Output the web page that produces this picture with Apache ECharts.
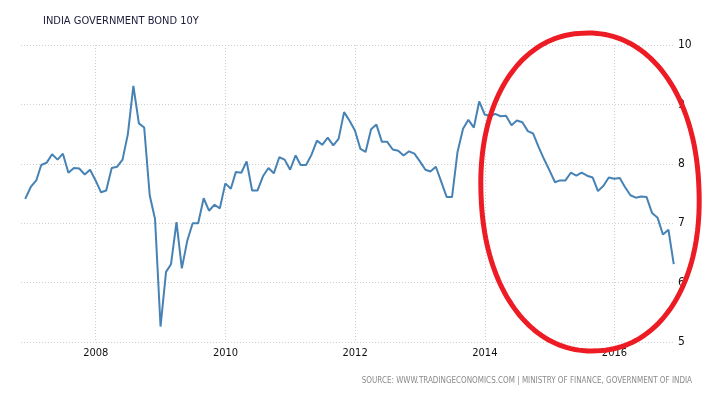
<!DOCTYPE html>
<html>
<head>
<meta charset="utf-8">
<script src="https://cdn.jsdelivr.net/npm/echarts@6/dist/echarts.min.js"></script>
<style>
html,body{margin:0;padding:0;background:#fff;}
#c{width:714px;height:394px;}
</style>
</head>
<body>
<div id="c"></div>
<script>
// Monthly yields, Nov 2006 .. Nov 2016 (month-end)
const startYear = 2006, startMonth = 10; // November (0-based)
const yields = [
  7.41, 7.61, 7.72, 7.98, 8.02, 8.16, 8.07, 8.17, 7.85, 7.93, 7.92, 7.82, 7.90,
  7.72, 7.52, 7.55, 7.93, 7.95, 8.07, 8.50, 9.31, 8.68, 8.61, 7.47, 7.07,
  5.26, 6.18, 6.31, 7.02, 6.24, 6.71, 7.00, 7.00, 7.42, 7.21, 7.31, 7.25,
  7.67, 7.58, 7.86, 7.85, 8.04, 7.55, 7.55, 7.79, 7.93, 7.84, 8.11, 8.07,
  7.90, 8.14, 7.98, 7.98, 8.15, 8.39, 8.32, 8.44, 8.31, 8.42, 8.87, 8.73,
  8.56, 8.25, 8.20, 8.58, 8.66, 8.37, 8.37, 8.24, 8.22, 8.14, 8.21, 8.17,
  8.04, 7.90, 7.87, 7.95, 7.70, 7.44, 7.44, 8.20, 8.59, 8.74, 8.61, 9.05,
  8.83, 8.80, 8.84, 8.80, 8.81, 8.65, 8.73, 8.70, 8.55, 8.51, 8.28, 8.08,
  7.89, 7.69, 7.72, 7.72, 7.85, 7.80, 7.85, 7.80, 7.77, 7.54, 7.63, 7.77,
  7.75, 7.76, 7.61, 7.47, 7.43, 7.45, 7.44, 7.17, 7.09, 6.81, 6.89, 6.31
];
const yearTicks = [2008, 2010, 2012, 2014, 2016];
const yTicks = [5, 6, 7, 8, 9, 10];

// month-end dates as categories (timestamps)
const months = yields.map((_, i) => Date.UTC(startYear, startMonth + i + 1, 0));
const seriesData = months.map((d, i) => [d, yields[i]]);
const yearTickValues = yearTicks.map(y => Date.UTC(y, 0, 1));

const chart = echarts.init(document.getElementById('c'), null, {renderer: 'canvas'});

// hand-drawn style annotation loop (pixel space, superellipse)
const ell = [];
const cx = 590, cy = 192, rx = 109, ry = 159, rot = -0.04, pw = 2.15;
for (let k = 0; k < 180; k++) {
  const t = k / 180 * Math.PI * 2;
  const c = Math.cos(t), s = Math.sin(t);
  const lx = rx * Math.sign(c) * Math.pow(Math.abs(c), 2 / pw);
  const ly = ry * Math.sign(s) * Math.pow(Math.abs(s), 2 / pw);
  ell.push([cx + lx * Math.cos(rot) - ly * Math.sin(rot), cy + lx * Math.sin(rot) + ly * Math.cos(rot)]);
}

chart.setOption({
  animation: false,
  backgroundColor: '#fff',
  title: {
    text: 'INDIA GOVERNMENT BOND 10Y',
    left: 38, top: 11,
    textStyle: {fontSize: 11, fontWeight: 'normal', color: '#1b1b3a', fontFamily: 'DejaVu Sans Condensed, DejaVu Sans'}
  },
  grid: {left: 21, right: 39, top: 45, bottom: 52},
  xAxis: {
    type: 'value',
    scale: true,
    min: Date.UTC(2006, 10, 6),
    max: Date.UTC(2016, 11, 7),
    axisLine: {show: false},
    axisTick: {show: false, customValues: yearTickValues},
    axisLabel: {
      customValues: yearTickValues,
      formatter: v => String(new Date(v).getUTCFullYear()),
      color: '#111', fontSize: 11, margin: 6,
      fontFamily: 'DejaVu Sans Condensed, DejaVu Sans'
    },
    splitLine: {show: true, lineStyle: {color: '#cfcfcf', type: [1, 2], width: 1}}
  },
  yAxis: {
    type: 'value',
    position: 'right',
    min: 5, max: 10, interval: 1,
    axisLine: {show: false},
    axisTick: {show: false},
    axisLabel: {color: '#111', fontSize: 12, margin: 3, fontFamily: 'DejaVu Sans Condensed, DejaVu Sans'},
    splitLine: {show: true, lineStyle: {color: '#cfcfcf', type: [1, 2], width: 1}}
  },
  series: [{
    type: 'line',
    data: seriesData,
    showSymbol: false,
    symbol: 'none',
    lineStyle: {color: '#4682b4', width: 2},
    z: 3
  }],
  graphic: [
    {
      type: 'polygon',
      shape: {points: ell, smooth: 0},
      style: {fill: null, stroke: '#ed1c24', lineWidth: 5},
      z: 100
    },
    {
      type: 'text',
      right: 22, top: 377,
      style: {
        text: 'SOURCE: WWW.TRADINGECONOMICS.COM | MINISTRY OF FINANCE, GOVERNMENT OF INDIA',
        fill: '#8a8a8a', font: '8px "DejaVu Sans Condensed", "DejaVu Sans"'
      }
    }
  ]
});
</script>
</body>
</html>
